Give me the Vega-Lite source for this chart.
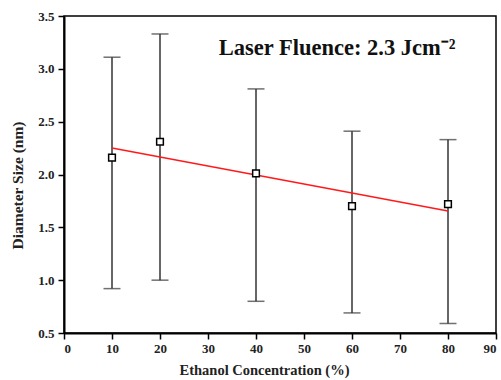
{
  "$schema": "https://vega.github.io/schema/vega-lite/v6.json",
  "autosize": "none",
  "width": 432,
  "height": 317,
  "padding": {"left": 64, "top": 16, "right": 5, "bottom": 47},
  "background": "white",
  "config": {
    "view": {"stroke": "black", "strokeWidth": 1.5},
    "font": "Liberation Serif"
  },
  "datasets": {
    "pts": [
      {"conc": 10, "size": 2.16, "lo": 0.92, "hi": 3.11},
      {"conc": 20, "size": 2.31, "lo": 1.0, "hi": 3.33},
      {"conc": 40, "size": 2.01, "lo": 0.8, "hi": 2.81},
      {"conc": 60, "size": 1.7, "lo": 0.69, "hi": 2.41},
      {"conc": 80, "size": 1.72, "lo": 0.59, "hi": 2.33}
    ],
    "fit": [
      {"conc": 10, "size": 2.25},
      {"conc": 80, "size": 1.655}
    ],
    "label": [
      {"conc": 56.9, "size": 3.2, "text": "Laser Fluence: 2.3 Jcm⁻²"}
    ]
  },
  "layer": [
    {
      "data": {"name": "pts"},
      "mark": {"type": "rule", "color": "#333", "strokeWidth": 1.5},
      "encoding": {
        "x": {"field": "conc", "type": "quantitative",
          "scale": {"domain": [0, 90], "nice": false},
          "axis": {
            "title": "Ethanol Concentration (%)",
            "values": [0,5,10,15,20,25,30,35,40,45,50,55,60,65,70,75,80,85,90],
            "labelExpr": "datum.value % 10 === 0 ? datum.label : ''",
            "tickSize": {"condition": {"test": "datum.value % 10 === 0", "value": 6}, "value": 3},
            "labelPadding": 3,
            "titlePadding": 8,
            "titleX": 200,
            "labelFont": "Liberation Serif",
            "labelFontWeight": "bold",
            "labelFontSize": 13,
            "labelColor": "#222",
            "titleFont": "Liberation Serif",
            "titleFontWeight": "bold",
            "titleFontSize": 14.5,
            "titleColor": "#222",
            "domainColor": "black",
            "domainWidth": 2,
            "tickColor": "black",
            "tickWidth": 1.5,
            "grid": false
          }},
        "y": {"field": "lo", "type": "quantitative",
          "scale": {"domain": [0.5, 3.5], "nice": false, "zero": false},
          "axis": {
            "title": "Diameter Size (nm)",
            "values": [0.5,0.75,1.0,1.25,1.5,1.75,2.0,2.25,2.5,2.75,3.0,3.25,3.5],
            "labelExpr": "(datum.value * 2) % 1 === 0 ? format(datum.value, '.1f') : ''",
            "tickSize": {"condition": {"test": "(datum.value * 2) % 1 === 0", "value": 6}, "value": 3},
            "labelPadding": 4,
            "titlePadding": 12,
            "titleY": 169,
            "labelFont": "Liberation Serif",
            "labelFontWeight": "bold",
            "labelFontSize": 13,
            "labelColor": "#222",
            "titleFont": "Liberation Serif",
            "titleFontWeight": "bold",
            "titleFontSize": 15.5,
            "titleColor": "#222",
            "domainColor": "black",
            "domainWidth": 2,
            "tickColor": "black",
            "tickWidth": 1.5,
            "grid": false
          }},
        "y2": {"field": "hi"}
      }
    },
    {
      "data": {"name": "pts"},
      "mark": {"type": "tick", "orient": "horizontal", "color": "#333", "size": 17, "thickness": 1.5},
      "encoding": {
        "x": {"field": "conc", "type": "quantitative"},
        "y": {"field": "hi", "type": "quantitative"}
      }
    },
    {
      "data": {"name": "pts"},
      "mark": {"type": "tick", "orient": "horizontal", "color": "#333", "size": 17, "thickness": 1.5},
      "encoding": {
        "x": {"field": "conc", "type": "quantitative"},
        "y": {"field": "lo", "type": "quantitative"}
      }
    },
    {
      "data": {"name": "fit"},
      "mark": {"type": "line", "color": "#ff1a1a", "strokeWidth": 1.5},
      "encoding": {
        "x": {"field": "conc", "type": "quantitative"},
        "y": {"field": "size", "type": "quantitative"}
      }
    },
    {
      "data": {"name": "pts"},
      "mark": {"type": "point", "shape": "square", "filled": true, "fill": "white", "stroke": "black", "strokeWidth": 1.5, "size": 45, "opacity": 1},
      "encoding": {
        "x": {"field": "conc", "type": "quantitative"},
        "y": {"field": "size", "type": "quantitative"}
      }
    },
    {
      "data": {"name": "label"},
      "mark": {"type": "text", "font": "Liberation Serif", "fontWeight": "bold", "fontSize": 22.5, "color": "#111", "align": "center", "baseline": "middle"},
      "encoding": {
        "x": {"field": "conc", "type": "quantitative"},
        "y": {"field": "size", "type": "quantitative"},
        "text": {"field": "text"}
      }
    }
  ]
}
